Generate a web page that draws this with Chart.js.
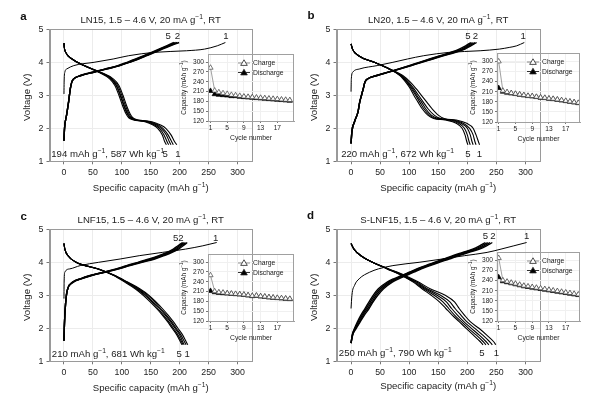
<!DOCTYPE html>
<html>
<head>
<meta charset="utf-8">
<script src="https://cdn.jsdelivr.net/npm/chart.js"></script>
<style>
  body { margin: 0; background: #fff; width: 600px; height: 398px; position: relative; overflow: hidden; }
  canvas { position: absolute; }
</style>
</head>
<body>
<script>
const FONT = "'Liberation Sans', Arial, Helvetica, sans-serif";

// ---- ticks ----
const capTicks = [0, 50, 100, 150, 200, 250, 300];
const voltTicks = [1, 2, 3, 4, 5];
const cycTicks = [1, 5, 9, 13, 17];
const capInTicks = [120, 150, 180, 210, 240, 270, 300];
const cycles = [1, 2, 3, 4, 5, 6, 7, 8, 9, 10, 11, 12, 13, 14, 15, 16, 17, 18, 19, 20];

// ---- a: LN15 ----
const aChgV1 = [3.04, 3.4, 3.7, 3.8, 3.9, 4.0, 4.1, 4.2, 4.3, 4.35, 4.4, 4.5, 4.6];
const aChg1 = [0, 0.3, 1.5, 5, 17, 52, 85, 112, 155, 212, 243, 265, 279];
const aChgV = [1.62, 2.0, 2.4, 2.8, 3.2, 3.4, 3.5, 3.6, 3.7, 3.8, 3.9, 4.0, 4.1, 4.2, 4.3, 4.4, 4.5, 4.6];
const aChg2 = [0, 1, 4.5, 8, 11, 13.5, 17, 30, 52, 75, 97, 113, 129, 143, 157, 170, 184, 199];
const aChg3 = [0, 1, 4.5, 8, 11, 13.5, 17, 29.5, 51, 74, 96, 112, 128, 142, 155, 168, 182, 196];
const aChg4 = [0, 1, 4.5, 8, 11, 13.5, 17, 29, 50, 73, 95, 111, 126, 140, 153, 166, 180, 193];
const aChg5 = [0, 1, 4.5, 8, 11, 13.5, 17, 28.5, 49, 72, 93, 109, 124, 138, 151, 164, 177, 190];
const aDisV = [4.58, 4.45, 4.3, 4.1, 3.9, 3.7, 3.5, 3.3, 3.0, 2.7, 2.45, 2.32, 2.26, 2.2, 2.1, 2.0, 1.8, 1.6, 1.5];
const aDis1 = [0, 0.6, 3, 14, 35, 63, 85, 95, 102, 108, 114, 119, 127, 152, 167, 176, 185, 191, 195];
const aDis2 = [0, 0.6, 3, 14, 35, 62, 83, 93, 100, 106, 112, 117, 124, 148, 163, 171, 180, 186, 189];
const aDis3 = [0, 0.6, 3, 14, 35, 62, 82, 91, 98, 104, 110, 115, 122, 145, 160, 168, 177, 182, 185];
const aDis4 = [0, 0.6, 3, 14, 35, 61, 81, 90, 97, 103, 109, 114, 121, 143, 157, 165, 173, 178, 181];
const aDis5 = [0, 0.6, 3, 14, 34, 60, 79, 88, 95, 101, 107, 112, 119, 140, 154, 162, 170, 174, 177];
const aInChg = [283, 213, 208, 205, 203, 200, 199, 197, 195, 194, 193, 192, 191, 190, 189, 188, 187, 186, 185, 184];
const aInDis = [212, 202, 200, 199, 198, 196, 196, 194, 193, 192, 191, 190, 189, 188, 187, 186, 185, 184, 183, 182];

// ---- b: LN20 ----
const bChgV1 = [3.11, 3.5, 3.7, 3.8, 3.9, 4.0, 4.1, 4.2, 4.3, 4.35, 4.4, 4.45, 4.5, 4.6];
const bChg1 = [0, 0.5, 3, 15, 45, 72, 97, 125, 168, 222, 255, 272, 285, 298];
const bChgV = [1.54, 1.9, 2.2, 2.5, 2.8, 3.0, 3.2, 3.4, 3.5, 3.6, 3.7, 3.8, 3.9, 4.0, 4.1, 4.2, 4.3, 4.4, 4.5, 4.6];
const bChg2 = [0, 1.5, 6, 12, 15, 18, 21, 24, 29, 45, 65, 85, 104, 122, 141, 160, 180, 196, 206, 216];
const bChg3 = [0, 1.5, 6, 12, 15, 18, 21, 24, 29, 45, 64, 84, 103, 120, 139, 158, 177, 193, 203, 213];
const bChg4 = [0, 1.5, 6, 12, 15, 18, 21, 24, 29, 44, 64, 83, 101, 119, 137, 155, 174, 190, 200, 209];
const bChg5 = [0, 1.5, 6, 12, 15, 18, 21, 24, 29, 44, 63, 82, 100, 117, 135, 153, 171, 186, 197, 206];
const bDisV = [4.56, 4.4, 4.2, 4.0, 3.8, 3.6, 3.4, 3.2, 3.0, 2.8, 2.6, 2.4, 2.3, 2.25, 2.15, 2.0, 1.8, 1.6, 1.5];
const bDis1 = [0, 2.5, 13, 40, 67, 89, 102, 112, 121, 130, 139, 150, 160, 181, 199, 210, 215, 219, 221];
const bDis2 = [0, 2.5, 13, 40, 66, 87, 99, 108, 116, 124, 132, 143, 153, 176, 193, 204, 210, 213, 215];
const bDis3 = [0, 2.5, 13, 40, 66, 86, 97, 106, 113, 121, 128, 138, 149, 172, 189, 200, 205, 208, 210];
const bDis4 = [0, 2.5, 13, 40, 65, 85, 96, 104, 111, 118, 125, 135, 145, 167, 185, 195, 200, 203, 205];
const bDis5 = [0, 2.5, 13, 40, 65, 84, 94, 102, 108, 115, 122, 132, 142, 163, 181, 191, 196, 199, 201];
const bInChg = [300, 213, 209, 206, 204, 202, 200, 198, 197, 195, 193, 192, 190, 189, 187, 185, 183, 181, 179, 177];
const bInDis = [221, 210, 207, 205, 203, 201, 199, 197, 196, 194, 192, 191, 189, 188, 186, 184, 182, 180, 178, 176];

// ---- c: LNF15 ----
const cChgV1 = [2.9, 3.4, 3.7, 3.8, 3.9, 4.0, 4.1, 4.2, 4.3, 4.4, 4.5, 4.6];
const cChg1 = [0, 0.3, 1.5, 10, 28, 60, 97, 130, 170, 210, 240, 264];
const cChgV = [1.62, 2.0, 2.5, 3.0, 3.2, 3.4, 3.5, 3.6, 3.7, 3.8, 3.9, 4.0, 4.1, 4.2, 4.3, 4.4, 4.5, 4.6];
const cChg2 = [0, 0.6, 1.8, 4.2, 6.5, 16, 30, 48, 71, 95, 114, 135, 157, 173, 187, 198, 206, 213];
const cChg3 = [0, 0.6, 1.8, 4.2, 6.5, 16, 29, 47, 70, 93, 112, 132, 153, 170, 184, 195, 203, 210];
const cChg4 = [0, 0.6, 1.8, 4.2, 6.5, 15.5, 29, 46, 69, 92, 110, 130, 150, 167, 181, 192, 200, 207];
const cChg5 = [0, 0.6, 1.8, 4.2, 6.5, 15, 28, 45, 68, 90, 108, 128, 147, 164, 178, 189, 197, 205];
const cDisV = [4.57, 4.4, 4.2, 4.0, 3.8, 3.6, 3.4, 3.2, 3.0, 2.8, 2.6, 2.4, 2.2, 2.0, 1.8, 1.6, 1.5];
const cDis1 = [0, 1.5, 7, 21, 60, 88, 110, 131, 147, 159, 170, 180, 189, 197, 205, 211, 214];
const cDis2 = [0, 1.5, 7, 21, 60, 88, 109, 129, 145, 157, 167, 177, 186, 194, 202, 208, 211];
const cDis3 = [0, 1.5, 7, 21, 59, 87, 108, 127, 142, 154, 165, 175, 184, 192, 200, 205, 208];
const cDis4 = [0, 1.5, 7, 21, 59, 87, 107, 125, 140, 152, 162, 172, 181, 189, 197, 203, 206];
const cDis5 = [0, 1.5, 7, 21, 59, 86, 105, 123, 137, 149, 160, 170, 179, 187, 195, 201, 204];
const cInChg = [260, 211, 208, 207, 205, 204, 203, 202, 201, 199, 197, 198, 196, 195, 193, 192, 191, 190, 189, 188];
const cInDis = [212, 208, 206, 205, 204, 203, 202, 201, 200, 198, 196, 197, 195, 194, 192, 191, 190, 189, 188, 187];

// ---- d: S-LNF15 ----
const dChgV1 = [2.6, 3.0, 3.3, 3.5, 3.7, 3.8, 3.9, 4.0, 4.1, 4.2, 4.3, 4.4, 4.5, 4.6];
const dChg1 = [0, 1.5, 6, 14, 32, 47, 72, 117, 157, 195, 234, 258, 280, 302];
const dChgV = [1.55, 1.8, 2.0, 2.2, 2.4, 2.6, 2.8, 3.0, 3.2, 3.4, 3.5, 3.6, 3.7, 3.8, 3.9, 4.0, 4.1, 4.2, 4.3, 4.4, 4.5, 4.6];
const dChg2 = [0, 3, 9, 16, 23, 31, 38, 46, 56, 71, 82, 95, 108, 121, 136, 152, 169, 185, 203, 221, 233, 243];
const dChg3 = [0, 2.7, 8, 14.5, 21, 28.5, 36, 43, 53, 68, 79, 92, 105, 118, 133, 149, 165, 182, 199, 217, 229, 239];
const dChg4 = [0, 2.3, 7, 12.5, 19, 26, 33.5, 40.5, 50, 65, 76, 89, 102, 115, 130, 146, 162, 178, 195, 213, 225, 235];
const dChg5 = [0, 2, 6, 11, 17, 24, 31, 38, 47, 62, 73, 87, 100, 113, 128, 143, 159, 175, 192, 209, 221, 231];
const dDisV = [4.57, 4.4, 4.2, 4.0, 3.8, 3.6, 3.4, 3.2, 3.0, 2.8, 2.6, 2.4, 2.2, 2.0, 1.8, 1.6, 1.5];
const dDis1 = [0, 5, 17, 37, 65, 93, 116, 136, 162, 178, 186, 195, 205, 220, 233, 245, 249];
const dDis2 = [0, 5, 17, 37, 64, 91, 113, 131, 154, 170, 179, 189, 199, 213, 226, 238, 243];
const dDis3 = [0, 5, 17, 37, 64, 90, 111, 128, 148, 164, 173, 183, 194, 207, 220, 232, 237];
const dDis4 = [0, 5, 17, 37, 63, 88, 109, 125, 143, 158, 168, 178, 190, 202, 215, 227, 232];
const dDis5 = [0, 5, 17, 37, 62, 87, 107, 122, 138, 152, 163, 174, 186, 198, 210, 222, 227];
const dInChg = [307, 241, 237, 234, 231, 228, 225, 223, 221, 219, 217, 215, 213, 211, 209, 207, 205, 203, 201, 199];
const dInDis = [250, 238, 235, 232, 229, 226, 223, 221, 219, 217, 215, 213, 211, 209, 207, 205, 203, 201, 199, 197];

// ---- panels (layout in px relative to each panel corner) ----
const panels = [
  { key: 'a', ox: 0, oy: 0, letter: [23.5, 15.5], xTitleY: 188,
    area: { l: 49.5, r: 252, t: 29.3, b: 161.3 },
    inset: { l: 207.5, r: 293, t: 54, b: 120.5, min: 0.4, max: 21 },
    title: ['LN15, 1.5 – 4.6 V, 20 mA g', '^−1', ', RT'],
    note: ['194 mAh g', '^−1', ', 587 Wh kg', '^−1'], notePos: [-22, 1.22],
    marks: [['5', 180, 4.8], ['2', 196, 4.8], ['1', 280, 4.8], ['5', 175, 1.22], ['1', 197, 1.22]],
    chg1: [aChg1, aChgV1], chg: [aChg2, aChg3, aChg4, aChg5], chgV: aChgV,
    dis: [aDis1, aDis2, aDis3, aDis4, aDis5], disV: aDisV, inChg: aInChg, inDis: aInDis },
  { key: 'b', ox: 300, oy: 0, letter: [11, 15], xTitleY: 188,
    area: { l: 36.5, r: 240, t: 29.3, b: 161.3 },
    inset: { l: 196.7, r: 279.5, t: 52.5, b: 121, min: 0.6, max: 20.4 },
    title: ['LN20, 1.5 – 4.6 V, 20 mA g', '^−1', ', RT'],
    note: ['220 mAh g', '^−1', ', 672 Wh kg', '^−1'], notePos: [-17, 1.24],
    marks: [['5', 201, 4.8], ['2', 214, 4.8], ['1', 296, 4.8], ['5', 201, 1.24], ['1', 221, 1.24]],
    chg1: [bChg1, bChgV1], chg: [bChg2, bChg3, bChg4, bChg5], chgV: bChgV,
    dis: [bDis1, bDis2, bDis3, bDis4, bDis5], disV: bDisV, inChg: bInChg, inDis: bInDis },
  { key: 'c', ox: 0, oy: 200, letter: [23.7, 15.8], xTitleY: 188,
    area: { l: 49.5, r: 252, t: 29.3, b: 161.3 },
    inset: { l: 207.5, r: 293, t: 53.5, b: 120.7, min: 0.4, max: 21 },
    title: ['LNF15, 1.5 – 4.6 V, 20 mA g', '^−1', ', RT'],
    note: ['210 mAh g', '^−1', ', 681 Wh kg', '^−1'], notePos: [-21, 1.24],
    marks: [['5', 193, 4.75], ['2', 202, 4.75], ['1', 262, 4.75], ['5', 199, 1.24], ['1', 213, 1.24]],
    chg1: [cChg1, cChgV1], chg: [cChg2, cChg3, cChg4, cChg5], chgV: cChgV,
    dis: [cDis1, cDis2, cDis3, cDis4, cDis5], disV: cDisV, inChg: cInChg, inDis: cInDis },
  { key: 'd', ox: 300, oy: 200, letter: [10.5, 15], xTitleY: 186,
    area: { l: 36.5, r: 240, t: 29.3, b: 161.3 },
    inset: { l: 196.7, r: 279.5, t: 51.7, b: 120.7, min: 0.6, max: 20.4 },
    title: ['S-LNF15, 1.5 – 4.6 V, 20 mA g', '^−1', ', RT'],
    note: ['250 mAh g', '^−1', ', 790 Wh kg', '^−1'], notePos: [-21, 1.26],
    marks: [['5', 231, 4.8], ['2', 244, 4.8], ['1', 302, 4.8], ['5', 225, 1.26], ['1', 250, 1.26]],
    chg1: [dChg1, dChgV1], chg: [dChg2, dChg3, dChg4, dChg5], chgV: dChgV,
    dis: [dDis1, dDis2, dDis3, dDis4, dDis5], disV: dDisV, inChg: dInChg, inDis: dInDis }
];

Chart.defaults.font.family = FONT;
Chart.defaults.color = '#222';

// text with superscript parts (prefixed with ^); y is the visual middle
function drawRich(ctx, parts, x, y, size, align, weight) {
  weight = weight || 'normal';
  let w = 0;
  for (const p of parts) {
    const sup = p[0] === '^';
    ctx.font = `${weight} ${sup ? size * 0.7 : size}px ${FONT}`;
    w += ctx.measureText(sup ? p.slice(1) : p).width;
  }
  let cx = align === 'center' ? x - w / 2 : align === 'right' ? x - w : x;
  const base = y + size * 0.36;
  ctx.textAlign = 'left';
  ctx.textBaseline = 'alphabetic';
  for (const p of parts) {
    const sup = p[0] === '^';
    const t = sup ? p.slice(1) : p;
    ctx.font = `${weight} ${sup ? size * 0.7 : size}px ${FONT}`;
    ctx.fillText(t, cx, sup ? base - size * 0.42 : base);
    cx += ctx.measureText(t).width;
  }
}

function makeCanvas(left, top, w, h) {
  const c = document.createElement('canvas');
  c.width = w; c.height = h;
  c.style.left = left + 'px'; c.style.top = top + 'px';
  c.style.width = w + 'px'; c.style.height = h + 'px';
  document.body.appendChild(c);
  return c;
}

function line(caps, volts, width) {
  return {
    data: caps.map((c, i) => ({ x: c, y: volts[i] })),
    borderColor: '#000', borderWidth: width, pointRadius: 0,
    cubicInterpolationMode: 'monotone', fill: false
  };
}

const YW = 20, XH = 20;

panels.forEach(p => {
  const W = 300, H = 200, A = p.area;
  const cv = makeCanvas(p.ox, p.oy, W, H);

  const datasets = [line(p.chg1[0], p.chg1[1], 1)];
  p.chg.forEach(c => datasets.push(line(c, p.chgV, 1.4)));
  p.dis.forEach(d => datasets.push(line(d, p.disV, 1.1)));

  const deco = {
    id: 'deco' + p.key,
    afterDraw(chart) {
      const { ctx, chartArea: a, scales: { x, y } } = chart;
      ctx.save();
      ctx.strokeStyle = '#9a9a9a';
      ctx.lineWidth = 1;
      ctx.strokeRect(Math.round(a.left) + 0.5, Math.round(a.top) + 0.5,
        Math.round(a.right - a.left) - 1, Math.round(a.bottom - a.top));
      ctx.fillStyle = '#111';
      drawRich(ctx, [p.key], p.letter[0], p.letter[1], 11.5, 'center', 'bold');
      ctx.fillStyle = '#222';
      const cxm = (a.left + a.right) / 2;
      drawRich(ctx, p.title, cxm, 20, 9.6, 'center');
      drawRich(ctx, ['Specific capacity (mAh g', '^−1', ')'], cxm, p.xTitleY, 9.6, 'center');
      ctx.save();
      ctx.translate(a.left - 23, (a.top + a.bottom) / 2 + 2);
      ctx.rotate(-Math.PI / 2);
      drawRich(ctx, ['Voltage (V)'], 0, 0, 9.6, 'center');
      ctx.restore();
      drawRich(ctx, p.note, x.getPixelForValue(p.notePos[0]), y.getPixelForValue(p.notePos[1]), 9.6, 'left');
      p.marks.forEach(m => drawRich(ctx, [m[0]], x.getPixelForValue(m[1]), y.getPixelForValue(m[2]), 9.6, 'center'));
      ctx.restore();
    }
  };

  new Chart(cv, {
    type: 'line',
    data: { datasets },
    plugins: [deco],
    options: {
      responsive: false, animation: false, devicePixelRatio: 1,
      layout: { padding: { left: A.l - YW, top: A.t, right: W - A.r, bottom: H - A.b - XH } },
      plugins: { legend: { display: false }, tooltip: { enabled: false } },
      scales: {
        x: {
          type: 'linear', min: -25, max: 325,
          afterBuildTicks: s => { s.ticks = capTicks.map(v => ({ value: v })); },
          afterFit: s => { s.height = XH; },
          grid: { color: '#ececec', tickColor: '#777', tickLength: 3 },
          border: { color: '#9a9a9a' },
          ticks: { font: { size: 8.8 }, padding: 3, maxRotation: 0, color: '#222' }
        },
        y: {
          type: 'linear', min: 1, max: 5,
          afterBuildTicks: s => { s.ticks = voltTicks.map(v => ({ value: v })); },
          afterFit: s => { s.width = YW; },
          grid: { color: '#ececec', tickColor: '#777', tickLength: 3 },
          border: { color: '#9a9a9a' },
          ticks: { font: { size: 8.8 }, padding: 3, color: '#222' }
        }
      }
    }
  });

  // ---- inset: capacity vs cycle ----
  const I = p.inset;
  const IL = 32, IT = 8, IR = 7, IB = 24, IYW = 19, IXH = 10;
  const iw = Math.round(I.r - I.l + IL + IR), ih = Math.round(I.b - I.t + IT + IB);
  const icv = makeCanvas(p.ox + I.l - IL, p.oy + I.t - IT, iw, ih);

  const insetDeco = {
    id: 'inset' + p.key,
    afterDraw(chart) {
      const { ctx, chartArea: a } = chart;
      ctx.save();
      ctx.strokeStyle = '#a0a0a0';
      ctx.lineWidth = 1;
      ctx.strokeRect(Math.round(a.left) + 0.5, Math.round(a.top) + 0.5,
        Math.round(a.right - a.left) - 1, Math.round(a.bottom - a.top));
      ctx.fillStyle = '#222';
      drawRich(ctx, ['Cycle number'], (a.left + a.right) / 2, a.bottom + 16.5, 6.8, 'center');
      ctx.save();
      ctx.translate(a.left - 24.5, (a.top + a.bottom) / 2);
      ctx.rotate(-Math.PI / 2);
      drawRich(ctx, ['Capacity (mAh g', '^−1', ')'], 0, 0, 6.4, 'center');
      ctx.restore();
      // legend
      const items = [['Charge', '#fff', '#777'], ['Discharge', '#000', '#000']];
      items.forEach((it, k) => {
        const ly = a.top + 9 + k * 9.5, lx = a.left + 36;
        ctx.strokeStyle = it[2];
        ctx.lineWidth = 0.8;
        ctx.beginPath(); ctx.moveTo(lx - 6, ly); ctx.lineTo(lx + 6, ly); ctx.stroke();
        ctx.beginPath();
        ctx.moveTo(lx, ly - 3.2); ctx.lineTo(lx + 3.3, ly + 2.4); ctx.lineTo(lx - 3.3, ly + 2.4); ctx.closePath();
        ctx.fillStyle = it[1]; ctx.fill();
        ctx.strokeStyle = '#222'; ctx.stroke();
        ctx.fillStyle = '#222';
        drawRich(ctx, [it[0]], lx + 9, ly, 6.8, 'left');
      });
      ctx.restore();
    }
  };

  new Chart(icv, {
    type: 'line',
    data: {
      datasets: [
        { data: cycles.map((c, i) => ({ x: c, y: p.inChg[i] })), borderColor: '#888', borderWidth: 0.8,
          pointStyle: 'triangle', pointRadius: 3, pointBackgroundColor: '#fff', pointBorderColor: '#444', pointBorderWidth: 0.7 },
        { data: cycles.map((c, i) => ({ x: c, y: p.inDis[i] })), borderColor: '#000', borderWidth: 0.8,
          pointStyle: 'triangle', pointRadius: 3, pointBackgroundColor: '#000', pointBorderColor: '#000', pointBorderWidth: 0.7 }
      ]
    },
    plugins: [insetDeco],
    options: {
      responsive: false, animation: false, devicePixelRatio: 1,
      layout: { padding: { left: IL - IYW, top: IT, right: IR, bottom: IB - IXH } },
      plugins: { legend: { display: false }, tooltip: { enabled: false } },
      scales: {
        x: {
          type: 'linear', min: I.min, max: I.max,
          afterBuildTicks: s => { s.ticks = cycTicks.map(v => ({ value: v })); },
          afterFit: s => { s.height = IXH; },
          grid: { color: '#f0f0f0', tickColor: '#777', tickLength: 2 },
          border: { color: '#a0a0a0' },
          ticks: { font: { size: 6.6 }, padding: 1, maxRotation: 0, color: '#222' }
        },
        y: {
          type: 'linear', min: 120, max: 325,
          afterBuildTicks: s => { s.ticks = capInTicks.map(v => ({ value: v })); },
          afterFit: s => { s.width = IYW; },
          grid: { color: '#f0f0f0', tickColor: '#777', tickLength: 2 },
          border: { color: '#a0a0a0' },
          ticks: { font: { size: 6.6 }, padding: 2, color: '#222' }
        }
      }
    }
  });
});
</script>
</body>
</html>
